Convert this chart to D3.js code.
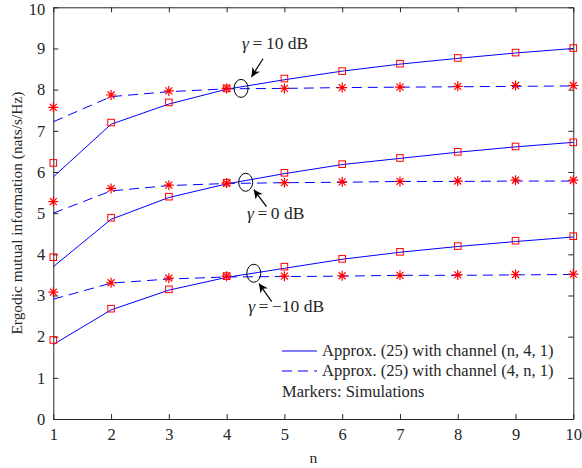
<!DOCTYPE html>
<html>
<head>
<meta charset="utf-8">
<script src="https://cdn.jsdelivr.net/npm/d3@7"></script>
<style>
  body { margin: 0; background: #fff; }
  svg text { font-family: "Liberation Serif", "DejaVu Serif", serif; fill: #262626; }
</style>
</head>
<body>
<div id="chart"></div>
<script>
// x values (n) and the three SNR groups
var nVals = [1, 2, 3, 4, 5, 6, 7, 8, 9, 10];

// gamma = 10 dB
var approxA10 = [5.88, 7.16, 7.65, 8.01, 8.24, 8.45, 8.62, 8.76, 8.89, 9.00];
var simA10    = [6.22, 7.20, 7.69, 8.03, 8.27, 8.45, 8.63, 8.77, 8.90, 9.01];
var approxB10 = [7.22, 7.83, 7.95, 8.02, 8.03, 8.05, 8.06, 8.07, 8.08, 8.09];
var simB10    = [7.57, 7.87, 7.97, 8.03, 8.03, 8.05, 8.06, 8.08, 8.10, 8.10];
// gamma = 0 dB
var approxA0 = [3.70, 4.85, 5.38, 5.71, 5.96, 6.18, 6.33, 6.48, 6.61, 6.72];
var simA0    = [3.93, 4.89, 5.40, 5.74, 5.98, 6.19, 6.34, 6.49, 6.62, 6.72];
var approxB0 = [5.00, 5.54, 5.67, 5.72, 5.74, 5.75, 5.77, 5.77, 5.78, 5.78];
var simB0    = [5.28, 5.60, 5.68, 5.73, 5.74, 5.76, 5.77, 5.78, 5.80, 5.80];
// gamma = -10 dB
var approxAm10 = [1.81, 2.65, 3.13, 3.44, 3.66, 3.88, 4.05, 4.19, 4.31, 4.42];
var simAm10    = [1.92, 2.68, 3.15, 3.47, 3.70, 3.89, 4.06, 4.20, 4.33, 4.44];
var approxBm10 = [2.91, 3.30, 3.40, 3.45, 3.46, 3.47, 3.49, 3.49, 3.50, 3.51];
var simBm10    = [3.08, 3.31, 3.42, 3.47, 3.47, 3.48, 3.49, 3.50, 3.51, 3.52];

var xTicks = [1, 2, 3, 4, 5, 6, 7, 8, 9, 10];
var yTicks = [0, 1, 2, 3, 4, 5, 6, 7, 8, 9, 10];

var legendLabels = ["Approx. (25) with channel (n, 4, 1)", "Approx. (25) with channel (4, n, 1)", "Markers: Simulations"];

// annotation: gamma value, ellipse centre, arrow tail, arrow head, text anchor (data coords)
var annValues = ["10", "0", "\u221210"];
var annEllipse = [[4.25, 8.03], [4.33, 5.75], [4.47, 3.54]];
var annTail = [[4.63, 8.75], [4.69, 5.16], [4.78, 2.85]];
var annHead = [[4.43, 8.31], [4.47, 5.57], [4.56, 3.29]];
var annText = [[4.84, 8.98], [4.85, 4.85], [5.03, 2.61]];

var W = 582, H = 468;
var margin = {left: 53.3, right: 8.7, top: 7.3, bottom: 49};

var svg = d3.select("#chart").append("svg")
  .attr("width", W).attr("height", H);

var x = d3.scaleLinear().domain([1, 10]).range([margin.left, W - margin.right]);
var y = d3.scaleLinear().domain([0, 10]).range([H - margin.bottom, margin.top]);

var axisColor = "#262626";

// axes (ticks point inward, MATLAB box style)
var gx = svg.append("g").attr("transform", "translate(0," + y(0) + ")")
  .call(d3.axisBottom(x).tickValues(xTicks).tickSizeInner(-5).tickSizeOuter(0).tickPadding(9).tickFormat(d3.format("d")));
var gxTop = svg.append("g").attr("transform", "translate(0," + y(10) + ")")
  .call(d3.axisTop(x).tickValues(xTicks).tickSizeInner(-5).tickSizeOuter(0).tickFormat(""));
var gy = svg.append("g").attr("transform", "translate(" + x(1) + ",0)")
  .call(d3.axisLeft(y).tickValues(yTicks).tickSizeInner(-5).tickSizeOuter(0).tickPadding(8).tickFormat(d3.format("d")));
var gyRight = svg.append("g").attr("transform", "translate(" + x(10) + ",0)")
  .call(d3.axisRight(y).tickValues(yTicks).tickSizeInner(-5).tickSizeOuter(0).tickFormat(""));

[gx, gxTop, gy, gyRight].forEach(function(g) {
  g.selectAll("path, line").attr("stroke", axisColor).attr("stroke-width", 1);
  g.selectAll("text").attr("font-size", 16.5).attr("fill", axisColor)
    .attr("font-family", "Liberation Serif, serif");
});
// keep the top label inside the picture
gy.selectAll(".tick text").filter(function(d) { return d === 10; }).attr("dy", "0.42em");

// axis titles
svg.append("text")
  .attr("x", (x(1) + x(10)) / 2).attr("y", 463)
  .attr("text-anchor", "middle").attr("font-size", 15.5)
  .text("n");
svg.append("text")
  .attr("transform", "translate(22," + ((y(0) + y(10)) / 2) + ") rotate(-90)")
  .attr("text-anchor", "middle").attr("font-size", 15.4)
  .text("Ergodic mutual information (nats/s/Hz)");

var line = d3.line()
  .x(function(d, i) { return x(nVals[i]); })
  .y(function(d) { return y(d); });

var plot = svg.append("g");

// curves
[approxA10, approxA0, approxAm10].forEach(function(s) {
  plot.append("path").attr("d", line(s))
    .attr("fill", "none").attr("stroke", "#0000ff").attr("stroke-width", 1);
});
[approxB10, approxB0, approxBm10].forEach(function(s) {
  plot.append("path").attr("d", line(s))
    .attr("fill", "none").attr("stroke", "#0000ff").attr("stroke-width", 1)
    .attr("stroke-dasharray", "10,6");
});

// square markers
[simA10, simA0, simAm10].forEach(function(s) {
  plot.selectAll(null).data(s).join("rect")
    .attr("x", function(d, i) { return x(nVals[i]) - 3.3; })
    .attr("y", function(d) { return y(d) - 3.3; })
    .attr("width", 6.6).attr("height", 6.6)
    .attr("fill", "none").attr("stroke", "#ff0000").attr("stroke-width", 1);
});

// asterisk markers
var star = "M-5,0L5,0M0,-5L0,5M-3.5,-3.5L3.5,3.5M-3.5,3.5L3.5,-3.5";
[simB10, simB0, simBm10].forEach(function(s) {
  plot.selectAll(null).data(s).join("path")
    .attr("d", star)
    .attr("transform", function(d, i) { return "translate(" + x(nVals[i]) + "," + y(d) + ")"; })
    .attr("fill", "none").attr("stroke", "#ff0000").attr("stroke-width", 1.2);
});

// annotations
svg.append("defs").append("marker")
  .attr("id", "arrowhead").attr("viewBox", "0 0 10 10")
  .attr("refX", 10).attr("refY", 5)
  .attr("markerWidth", 9).attr("markerHeight", 9)
  .attr("markerUnits", "userSpaceOnUse")
  .attr("orient", "auto")
  .append("path").attr("d", "M0,0L10,5L0,10L3,5Z").attr("fill", "#000");

var ann = svg.append("g");
annValues.forEach(function(v, i) {
  ann.append("ellipse")
    .attr("cx", x(annEllipse[i][0])).attr("cy", y(annEllipse[i][1]))
    .attr("rx", 7).attr("ry", 9)
    .attr("fill", "none").attr("stroke", "#000").attr("stroke-width", 1);
  ann.append("line")
    .attr("x1", x(annTail[i][0])).attr("y1", y(annTail[i][1]))
    .attr("x2", x(annHead[i][0])).attr("y2", y(annHead[i][1]))
    .attr("stroke", "#000").attr("stroke-width", 1.2)
    .attr("marker-end", "url(#arrowhead)");
  var t = ann.append("text")
    .attr("x", x(annText[i][0])).attr("y", y(annText[i][1]))
    .attr("text-anchor", "middle").attr("font-size", 17.5)
    .attr("fill", "#333");
  t.append("tspan").attr("font-style", "italic").text("\u03b3");
  t.append("tspan").text("\u2009=\u2009" + v + " dB");
});

// legend
var leg = svg.append("g");
var legX = 282, legY = [351, 371, 391.5];
leg.append("line").attr("x1", legX).attr("x2", legX + 35).attr("y1", legY[0]).attr("y2", legY[0])
  .attr("stroke", "#0000ff").attr("stroke-width", 1);
leg.append("line").attr("x1", legX).attr("x2", legX + 35).attr("y1", legY[1]).attr("y2", legY[1])
  .attr("stroke", "#0000ff").attr("stroke-width", 1).attr("stroke-dasharray", "10,6");
legendLabels.forEach(function(t, i) {
  leg.append("text")
    .attr("x", i < 2 ? legX + 40 : legX)
    .attr("y", legY[i]).attr("dy", "0.33em")
    .attr("font-size", 16.5).attr("fill", "#000")
    .text(t);
});
</script>
</body>
</html>
